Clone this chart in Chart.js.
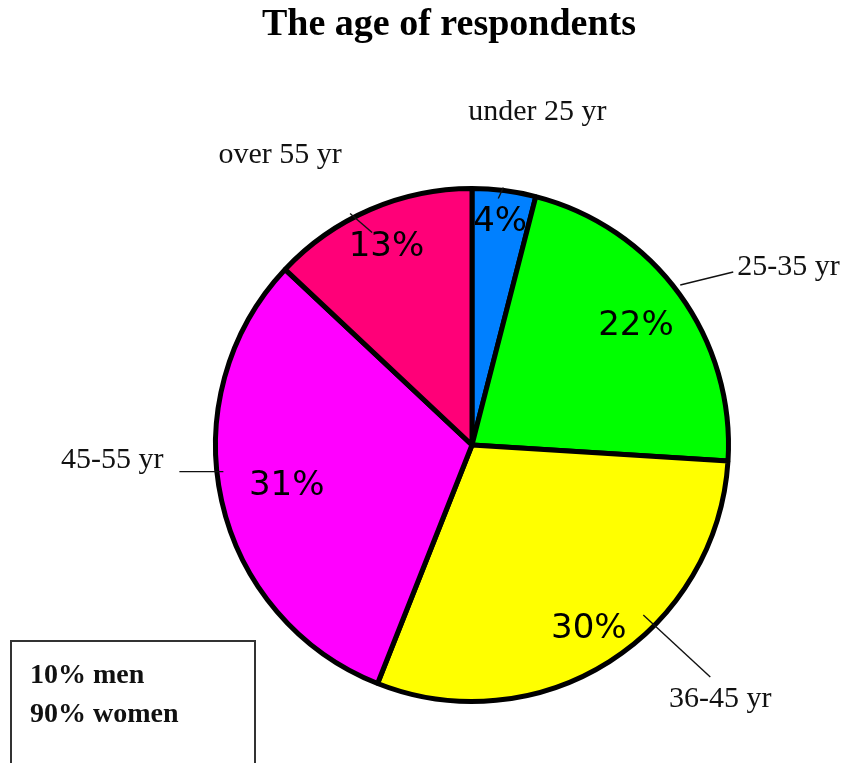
<!DOCTYPE html>
<html>
<head>
<meta charset="utf-8">
<script src="https://cdn.jsdelivr.net/npm/chart.js@4"></script>
<style>
  html, body { margin: 0; padding: 0; background: #ffffff; }
  #wrap { width: 848px; height: 763px; }
</style>
</head>
<body>
<div id="wrap"><canvas id="c" width="848" height="763"></canvas></div>
<script>
// ---- data ----
const categories = ['under 25 yr', '25-35 yr', '36-45 yr', '45-55 yr', 'over 55 yr'];
const shares = [4, 22, 30, 31, 13];
const pctLabels = ['4%', '22%', '30%', '31%', '13%'];
const sliceColors = ['#0080ff', '#00ff00', '#ffff00', '#ff00ff', '#ff0078'];
const titleText = 'The age of respondents';
const noteLines = ['10% men', '90% women'];

// ---- label styling (positions relative to slice geometry) ----
const pctRadius = [0.875, 0.79, 0.85, 0.74, 0.84];
// leader anchor: fraction along slice, line start/end offsets from edge point, text offset/alignment
const outerCfg = [
  { frac: 0.42, l1: [4, 0],     l2: [-1, 11],  t: [38, -67],   align: 'center' },
  { frac: 0.48, l1: [3, -2],    l2: [56, -15], t: [60, -12],   align: 'left' },
  { frac: 0.38, l1: [-13, -12], l2: [54, 50],  t: [64, 80],    align: 'center' },
  { frac: 0.56, l1: [9, 0],     l2: [-35, 0],  t: [-51, -4],   align: 'right' },
  { frac: 0.40, l1: [0, -3],    l2: [22, 16],  t: [-70, -53],  align: 'center' }
];

const labelPlugin = {
  id: 'labelPlugin',
  afterDatasetsDraw(chart) {
    const ctx = chart.ctx;
    const arcs = chart.getDatasetMeta(0).data;
    ctx.save();
    arcs.forEach((arc, i) => {
      const p = arc.getProps(['x', 'y', 'startAngle', 'endAngle', 'outerRadius'], true);
      // percentage label inside slice
      const mid = (p.startAngle + p.endAngle) / 2;
      const r = p.outerRadius * pctRadius[i];
      ctx.font = '34px "DejaVu Sans", sans-serif';
      ctx.fillStyle = '#000000';
      ctx.textAlign = 'center';
      ctx.textBaseline = 'middle';
      ctx.fillText(pctLabels[i], p.x + r * Math.cos(mid), p.y + r * Math.sin(mid));

      // outer category label with leader line
      const c = outerCfg[i];
      const a = p.startAngle + c.frac * (p.endAngle - p.startAngle);
      const re = p.outerRadius + 2.5;
      const ex = p.x + re * Math.cos(a);
      const ey = p.y + re * Math.sin(a);
      ctx.strokeStyle = '#111111';
      ctx.lineWidth = 1.4;
      ctx.beginPath();
      ctx.moveTo(ex + c.l1[0], ey + c.l1[1]);
      ctx.lineTo(ex + c.l2[0], ey + c.l2[1]);
      ctx.stroke();
      ctx.font = '30px "Liberation Serif", "Times New Roman", serif';
      ctx.textAlign = c.align;
      ctx.textBaseline = 'alphabetic';
      ctx.fillStyle = '#111111';
      ctx.fillText(categories[i], ex + c.t[0], ey + c.t[1]);
    });
    ctx.restore();
  },
  afterDraw(chart) {
    const ctx = chart.ctx;
    ctx.save();
    // title
    ctx.font = 'bold 38px "Liberation Serif", "Times New Roman", serif';
    ctx.fillStyle = '#000000';
    ctx.textAlign = 'center';
    ctx.textBaseline = 'alphabetic';
    ctx.fillText(titleText, 449, 35);
    // note box
    ctx.strokeStyle = '#333333';
    ctx.lineWidth = 2;
    ctx.strokeRect(11, 641, 244, 140);
    ctx.font = 'bold 28px "Liberation Serif", "Times New Roman", serif';
    ctx.textAlign = 'left';
    ctx.fillStyle = '#111111';
    noteLines.forEach((s, k) => ctx.fillText(s, 30, 683 + k * 39));
    ctx.restore();
  }
};

new Chart(document.getElementById('c'), {
  type: 'pie',
  data: {
    labels: categories,
    datasets: [{
      data: shares,
      backgroundColor: sliceColors,
      borderColor: '#000000',
      borderWidth: 5,
      hoverOffset: 0
    }]
  },
  options: {
    responsive: false,
    devicePixelRatio: 1,
    animation: false,
    layout: { padding: { top: 186, bottom: 59, left: 100, right: 4 } },
    plugins: {
      legend: { display: false },
      title: { display: false },
      tooltip: { enabled: false }
    }
  },
  plugins: [labelPlugin]
});
</script>
</body>
</html>
